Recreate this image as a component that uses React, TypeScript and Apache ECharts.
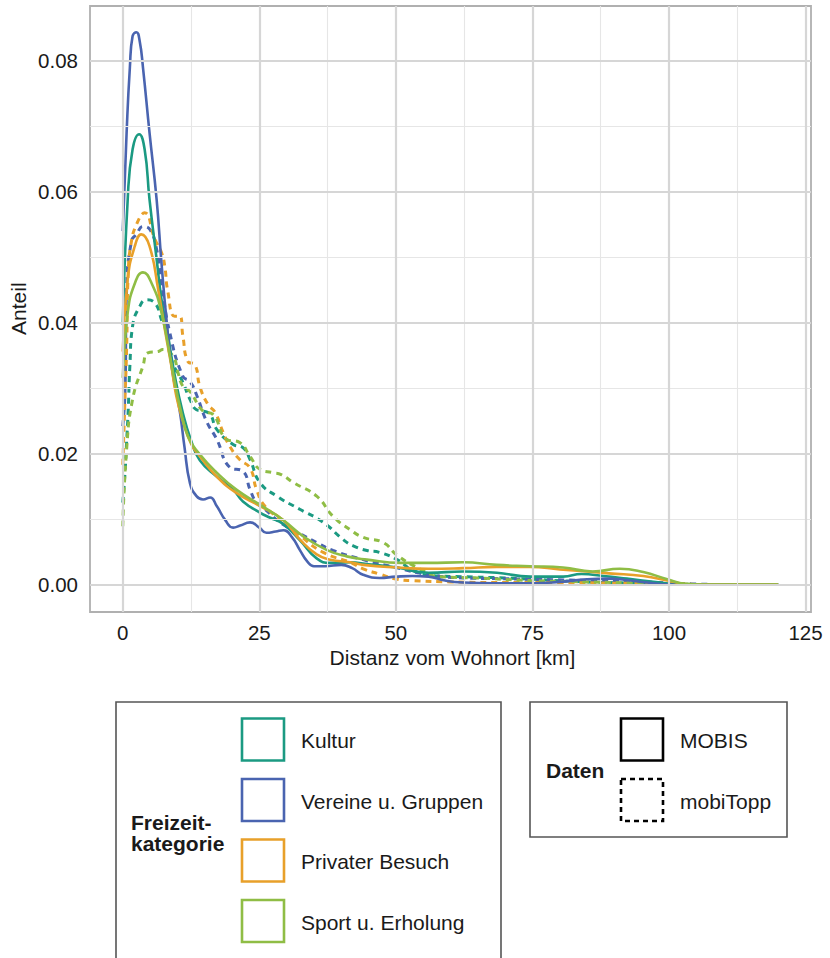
import React, { useEffect, useRef } from "react";
import * as echarts from "echarts";

const FONT = '"Liberation Sans", Arial, Helvetica, sans-serif';
const TEXT = "#1a1a1a";

// categories & data sources
const categories = ["Kultur", "Vereine u. Gruppen", "Privater Besuch", "Sport u. Erholung"];
const categoryColors = ["#1b9a82", "#4a64b0", "#e8a02a", "#8fbd45"];
const sources = ["MOBIS", "mobiTopp"];

// tick labels
const xTicks = [0, 25, 50, 75, 100, 125];
const xMinor = [12.5, 37.5, 62.5, 87.5, 112.5];
const yTicks = [0, 0.02, 0.04, 0.06, 0.08];
const yMinor = [0.01, 0.03, 0.05, 0.07];

// MOBIS (solid) densities: [distance km, share]
const kulturMobis = [[0,0.0397],[0.9,0.0588],[1.8,0.0665],[3,0.0688],[4,0.0665],[4.9,0.0588],[6.2,0.0497],[7.1,0.0435],[8,0.0395],[9.5,0.032],[11,0.0262],[12.5,0.022],[14.1,0.019],[17.2,0.0165],[20.2,0.0145],[22,0.0127],[25.1,0.011],[27,0.0102],[29.3,0.0093],[32.4,0.0068],[35.5,0.004],[38,0.0033],[41.6,0.0034],[45,0.0031],[50.2,0.0026],[56,0.0018],[62.3,0.002],[68.5,0.0018],[74.6,0.0012],[80.6,0.0012],[84,0.0016],[88,0.0013],[92.3,0.0009],[98.4,0.0003],[102,0],[110,0],[120,0]];
const vereineMobis = [[0,0.054],[0.7,0.069],[1.3,0.079],[1.8,0.0838],[2.5,0.0844],[3.1,0.083],[3.7,0.079],[4.9,0.069],[6.2,0.0588],[7.1,0.049],[8,0.0405],[9,0.033],[10.4,0.0267],[11.3,0.021],[12.3,0.0155],[13.5,0.0135],[14.7,0.013],[16,0.0133],[17.2,0.012],[18.8,0.0098],[20.2,0.0087],[21.5,0.009],[23.3,0.0095],[25,0.0087],[26.3,0.0079],[28,0.0081],[29.4,0.0083],[31,0.0072],[32.4,0.0053],[33.8,0.0035],[35,0.0028],[37,0.0028],[40,0.003],[42,0.0025],[44,0.0015],[47,0.001],[50,0.0012],[53,0.0013],[56,0.0012],[59,0.0006],[62.3,0.0003],[68,0.0002],[75,0.0002],[80,0.0004],[85,0.0008],[89,0.0009],[92,0.0007],[96,0.0003],[100,0],[110,0],[120,0]];
const privatMobis = [[0,0.0356],[0.9,0.0466],[2.2,0.0517],[3.4,0.0535],[4.9,0.0517],[6.5,0.045],[7.7,0.039],[8.9,0.0334],[9.8,0.0288],[11,0.025],[12.5,0.0215],[14.1,0.0196],[17.2,0.0165],[20.8,0.014],[25.1,0.012],[29.3,0.0099],[32.4,0.0069],[35.5,0.0046],[38,0.0038],[41.6,0.0034],[44,0.003],[50.2,0.0026],[56,0.0024],[62.3,0.0025],[68.5,0.0027],[74.6,0.0027],[80,0.0023],[85,0.002],[89,0.0017],[95.3,0.0013],[100.3,0.0005],[104,0],[110,0],[120,0]];
const sportMobis = [[0,0.0316],[0.9,0.0415],[2.2,0.046],[3.7,0.0477],[5.3,0.046],[7.1,0.0415],[9.2,0.0324],[10.5,0.027],[12,0.0225],[14.1,0.0199],[17.2,0.0171],[20.8,0.0145],[25.1,0.0122],[29.3,0.0099],[33,0.0074],[37.3,0.0053],[41,0.0043],[44.7,0.0038],[50.8,0.0033],[56,0.0033],[62.3,0.0034],[68.5,0.003],[74.6,0.0028],[80.6,0.0026],[86,0.002],[91,0.0024],[95.3,0.0019],[99.7,0.0008],[103,0.0001],[106,0],[120,0]];

// mobiTopp (dashed) densities
const kulturTopp = [[0,0.0125],[0.4,0.017],[0.7,0.0217],[1,0.0267],[1.3,0.0334],[1.8,0.0395],[3.1,0.0425],[4.3,0.0435],[5.9,0.043],[7.3,0.04],[8,0.039],[8.9,0.0344],[11,0.0309],[12.3,0.0283],[13.5,0.0267],[14.7,0.0265],[16,0.026],[17.2,0.0237],[20.2,0.0214],[22,0.0209],[23.3,0.0191],[25.1,0.0156],[28.2,0.0135],[32.4,0.0115],[36.7,0.0095],[40.3,0.0069],[42.2,0.0059],[44.7,0.0052],[47,0.0049],[50.2,0.0038],[53,0.0022],[56,0.0014],[62,0.0012],[70,0.001],[75,0.0008],[85,0.0004],[95,0.0002],[105,0]];
const vereineTopp = [[0,0.0242],[0.4,0.0293],[0.7,0.045],[1.6,0.0525],[2.5,0.0535],[3.7,0.0547],[5,0.0542],[6.2,0.0512],[7.1,0.046],[8.6,0.0385],[11,0.0318],[12.3,0.031],[13.5,0.029],[15.3,0.025],[17.2,0.0222],[19.6,0.0179],[22,0.0173],[23.3,0.0145],[24.5,0.0125],[26,0.0115],[29.3,0.0092],[32.4,0.0078],[35.5,0.0064],[38.5,0.0052],[44,0.0038],[50,0.0026],[56,0.0015],[62.3,0.001],[68.5,0.0009],[74.6,0.0008],[80.6,0.0007],[86,0.0006],[92,0.0005],[98,0.0003],[104,0.0001],[108,0]];
const privatTopp = [[0,0.0183],[0.2,0.0232],[0.4,0.0283],[0.7,0.0359],[1,0.0476],[1.5,0.052],[2.5,0.055],[4,0.0568],[5.9,0.0527],[7.1,0.0507],[7.7,0.0486],[8.2,0.045],[9.5,0.041],[10.4,0.041],[11,0.038],[11.9,0.0341],[13.2,0.0336],[14.1,0.0303],[15.6,0.0275],[16.9,0.0263],[18.4,0.0232],[19.6,0.0211],[21.4,0.0191],[23.3,0.0178],[24.5,0.0145],[26,0.012],[29.3,0.0097],[32.4,0.0075],[36.7,0.0049],[41.6,0.0034],[44,0.0024],[47,0.0016],[50.2,0.0008],[53,0.0006],[60,0.0004],[70,0.0003],[80,0.0003],[90,0.0002],[100,0.0001],[105,0]];
const sportTopp = [[0,0.0089],[0.7,0.0206],[1.8,0.0283],[3.7,0.0334],[4.6,0.0354],[6.5,0.0356],[7.3,0.0359],[9.2,0.0349],[10.1,0.0324],[11,0.0303],[12.3,0.0295],[14.7,0.0265],[16.5,0.026],[19,0.0222],[21.4,0.0217],[23.3,0.0196],[25.1,0.0176],[27.5,0.0171],[29,0.0168],[31.2,0.0156],[35.5,0.0135],[38.5,0.0104],[41.6,0.0084],[44,0.0072],[47.7,0.0064],[50.2,0.0045],[53.9,0.0026],[58,0.0012],[65,0.001],[74.6,0.0006],[85,0.0004],[95,0.0002],[105,0]];

const mobisData = [kulturMobis, vereineMobis, privatMobis, sportMobis];
const toppData = [kulturTopp, vereineTopp, privatTopp, sportTopp];

export default function App() {
  const ref = useRef<HTMLDivElement>(null);
  useEffect(() => {
    if (!ref.current) return;
    const chart = echarts.init(ref.current, null, { renderer: "svg" });

    const majorStyle = { color: "#d6d6d6", width: 2.2, type: "solid" };
    const minorStyle = { color: "#e6e6e6", width: 1.1, type: "solid" };
    const gridLines = [
      ...xMinor.map((v) => ({ xAxis: v, lineStyle: minorStyle })),
      ...yMinor.map((v) => ({ yAxis: v, lineStyle: minorStyle })),
      ...xTicks.map((v) => ({ xAxis: v, lineStyle: majorStyle })),
      ...yTicks.map((v) => ({ yAxis: v, lineStyle: majorStyle })),
    ];

    const series: any[] = [
      {
        type: "line",
        name: "grid",
        data: [],
        z: 1,
        silent: true,
        markLine: {
          silent: true,
          symbol: ["none", "none"],
          label: { show: false },
          emphasis: { disabled: true },
          animation: false,
          data: gridLines,
        },
      },
    ];
    toppData.forEach((d, i) => {
      series.push({
        type: "line",
        name: categories[i] + " (" + sources[1] + ")",
        data: d,
        showSymbol: false,
        smooth: 0.5,
        z: 3,
        lineStyle: { color: categoryColors[i], width: 3, type: [6, 5] },
      });
    });
    mobisData.forEach((d, i) => {
      series.push({
        type: "line",
        name: categories[i] + " (" + sources[0] + ")",
        data: d,
        showSymbol: false,
        smooth: 0.5,
        z: 4,
        lineStyle: { color: categoryColors[i], width: 2.6 },
      });
    });

    const keyX = 242;
    const keyYs = [718.5, 779, 839.5, 900];
    const graphic: any[] = [
      {
        type: "text",
        x: 18,
        y: 308.7,
        rotation: Math.PI / 2,
        style: { text: "Anteil", fontSize: 21, fontFamily: FONT, fill: TEXT, align: "center", verticalAlign: "middle" },
      },
      {
        type: "text",
        x: 452.5,
        y: 657,
        style: { text: "Distanz vom Wohnort [km]", fontSize: 21, fontFamily: FONT, fill: TEXT, align: "center", verticalAlign: "middle" },
      },
      // legend box 1
      {
        type: "rect",
        shape: { x: 116, y: 702, width: 385, height: 280 },
        style: { fill: "#fff", stroke: "#555", lineWidth: 1.6 },
      },
      {
        type: "text",
        x: 131,
        y: 832.5,
        style: { text: "Freizeit-\nkategorie", fontSize: 21, lineHeight: 21, fontWeight: "bold", fontFamily: FONT, fill: TEXT, align: "left", verticalAlign: "middle" },
      },
      // legend box 2
      {
        type: "rect",
        shape: { x: 530, y: 702, width: 257, height: 135 },
        style: { fill: "#fff", stroke: "#555", lineWidth: 1.6 },
      },
      {
        type: "text",
        x: 546,
        y: 770.5,
        style: { text: "Daten", fontSize: 21, fontWeight: "bold", fontFamily: FONT, fill: TEXT, align: "left", verticalAlign: "middle" },
      },
    ];
    categories.forEach((c, i) => {
      graphic.push({
        type: "rect",
        shape: { x: keyX, y: keyYs[i], width: 42, height: 42 },
        style: { fill: "#fff", stroke: categoryColors[i], lineWidth: 2.6 },
      });
      graphic.push({
        type: "text",
        x: 301,
        y: keyYs[i] + 22,
        style: { text: c, fontSize: 21, fontFamily: FONT, fill: TEXT, align: "left", verticalAlign: "middle" },
      });
    });
    sources.forEach((s, i) => {
      graphic.push({
        type: "rect",
        shape: { x: 621, y: keyYs[i], width: 42, height: 42 },
        style: { fill: "#fff", stroke: "#000", lineWidth: 2.6, lineDash: i === 1 ? [5, 4] : null },
      });
      graphic.push({
        type: "text",
        x: 680,
        y: keyYs[i] + 22,
        style: { text: s, fontSize: 21, fontFamily: FONT, fill: TEXT, align: "left", verticalAlign: "middle" },
      });
    });

    chart.setOption({
      animation: false,
      backgroundColor: "#ffffff",
      grid: {
        left: 90,
        top: 6,
        width: 721,
        height: 606,
        show: true,
        borderColor: "#b0b0b0",
        borderWidth: 1.8,
        backgroundColor: "transparent",
        containLabel: false,
      },
      xAxis: {
        type: "value",
        min: -6,
        max: 126,
        splitLine: { show: false },
        axisLine: { show: false },
        axisTick: { show: false },
        axisLabel: {
          customValues: xTicks,
          fontSize: 20.5,
          fontFamily: FONT,
          color: TEXT,
          margin: 10,
          formatter: (v: number) => String(v),
        },
      },
      yAxis: {
        type: "value",
        min: -0.0042,
        max: 0.0884,
        splitLine: { show: false },
        axisLine: { show: false },
        axisTick: { show: false },
        axisLabel: {
          customValues: yTicks,
          fontSize: 20.5,
          fontFamily: FONT,
          color: TEXT,
          margin: 12,
          formatter: (v: number) => v.toFixed(2),
        },
      },
      series,
      graphic,
    });
    return () => chart.dispose();
  }, []);
  return <div ref={ref} style={{ position: "fixed", left: 0, top: 0, width: 830, height: 958 }} />;
}
